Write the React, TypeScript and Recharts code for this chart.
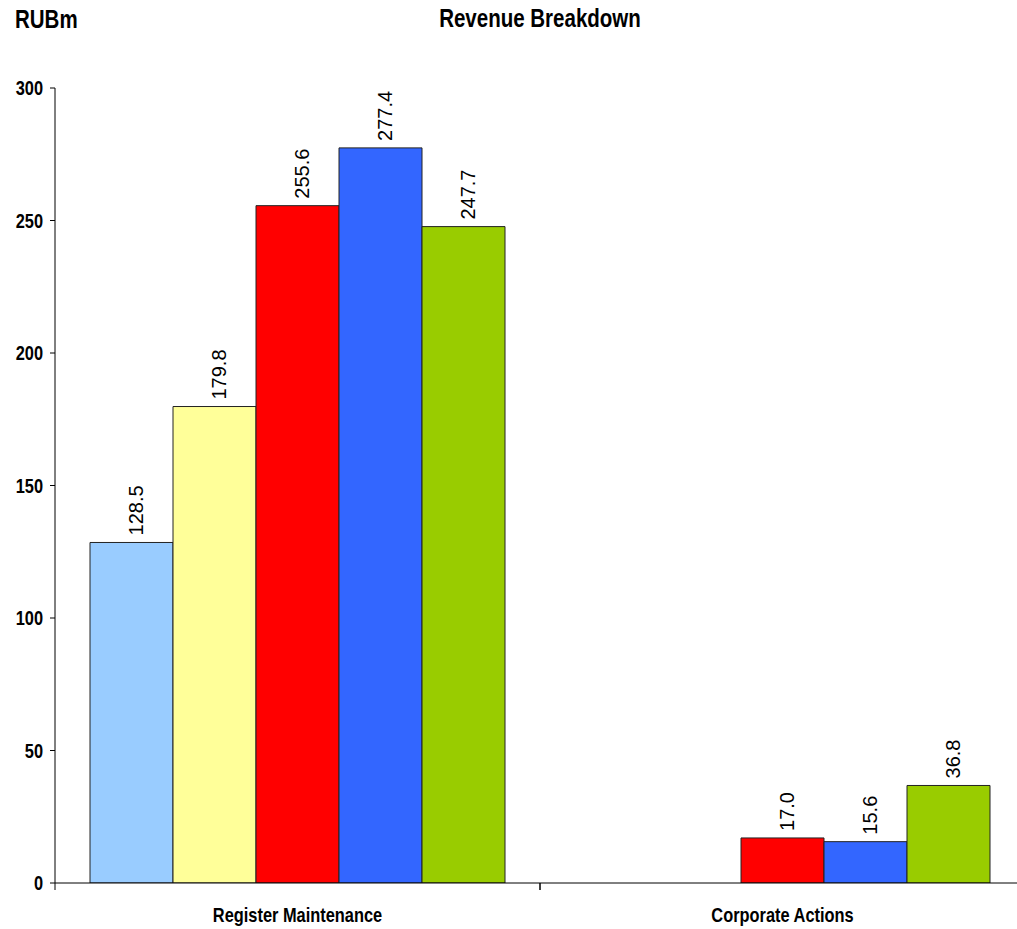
import React from "react";
import { BarChart, Bar, XAxis, YAxis, LabelList } from "recharts";

const categories = ["Register Maintenance", "Corporate Actions"];
const series1 = [128.5, null];
const series2 = [179.8, null];
const series3 = [255.6, 17.0];
const series4 = [277.4, 15.6];
const series5 = [247.7, 36.8];
const yTicks = [0, 50, 100, 150, 200, 250, 300];

const seriesDefs = [
  { key: "s1", values: series1, color: "#99CCFF" },
  { key: "s2", values: series2, color: "#FFFF99" },
  { key: "s3", values: series3, color: "#FF0000" },
  { key: "s4", values: series4, color: "#3366FF" },
  { key: "s5", values: series5, color: "#99CC00" },
];

const data = categories.map((c, i) => {
  const row: any = { name: c };
  seriesDefs.forEach((s) => (row[s.key] = s.values[i]));
  return row;
});

const FONT = "'Liberation Sans', Arial, sans-serif";
const NARROW = 0.82;

const ValueLabel = (props: any) => {
  const { x, y, width, value } = props;
  if (value === null || value === undefined) return null;
  const cx = x + width / 2 + 5;
  const ty = y - 7;
  return (
    <text
      x={cx}
      y={ty}
      transform={`rotate(-90, ${cx}, ${ty})`}
      textAnchor="start"
      dominantBaseline="central"
      fontFamily={FONT}
      fontSize={20}
      fill="#000"
    >
      {Number(value).toFixed(1)}
    </text>
  );
};

const XTick = (props: any) => {
  const { x, y, payload } = props;
  const half = payload && payload.offset ? payload.offset : 242.5;
  return (
    <g>
      <line x1={x - half} y1={y} x2={x - half} y2={y + 7} stroke="#000" />
      <line x1={x + half} y1={y} x2={x + half} y2={y + 7} stroke="#000" />
      <g transform={`translate(${x}, ${y + 39}) scale(${NARROW}, 1)`}>
        <text
          x={0}
          y={0}
          textAnchor="middle"
          fontFamily={FONT}
          fontWeight="bold"
          fontSize={20}
          fill="#000"
        >
          {payload.value}
        </text>
      </g>
    </g>
  );
};

const YTick = (props: any) => {
  const { x, y, payload } = props;
  return (
    <g transform={`translate(${x}, ${y}) scale(${NARROW}, 1)`}>
      <text
        x={0}
        y={0}
        textAnchor="end"
        dominantBaseline="central"
        fontFamily={FONT}
        fontWeight="bold"
        fontSize={20}
        fill="#000"
      >
        {payload.value}
      </text>
    </g>
  );
};

const headStyle: React.CSSProperties = {
  position: "absolute",
  fontFamily: FONT,
  fontWeight: "bold",
  fontSize: 25,
  lineHeight: "25px",
  color: "#000",
  whiteSpace: "nowrap",
};

export default function App() {
  return (
    <div
      style={{
        position: "absolute",
        left: 0,
        top: 0,
        width: 1017,
        height: 929,
        overflow: "hidden",
        background: "#fff",
      }}
    >
      <div
        style={{
          ...headStyle,
          left: 15,
          top: 7,
          transform: `scaleX(${NARROW})`,
          transformOrigin: "left top",
        }}
      >
        RUBm
      </div>
      <div
        style={{
          ...headStyle,
          left: 340,
          width: 400,
          top: 6,
          textAlign: "center",
          transform: `scaleX(${NARROW})`,
          transformOrigin: "center top",
        }}
      >
        Revenue Breakdown
      </div>
      <BarChart
        width={1030}
        height={929}
        data={data}
        margin={{ top: 88, right: 5, left: 0, bottom: 16 }}
        barCategoryGap={35}
        barGap={0}
      >
        <XAxis
          dataKey="name"
          axisLine={{ stroke: "#000" }}
          tickLine={false}
          tickSize={0}
          tickMargin={0}
          height={30}
          interval={0}
          tick={<XTick />}
        />
        <YAxis
          width={55}
          domain={[0, 300]}
          ticks={yTicks}
          allowDataOverflow
          axisLine={{ stroke: "#000" }}
          tickLine={{ stroke: "#000" }}
          tickSize={5}
          tickMargin={7}
          tick={<YTick />}
        />
        {seriesDefs.map((s) => (
          <Bar
            key={s.key}
            dataKey={s.key}
            fill={s.color}
            stroke="#222"
            strokeWidth={1}
            isAnimationActive={false}
          >
            <LabelList dataKey={s.key} content={<ValueLabel />} />
          </Bar>
        ))}
      </BarChart>
    </div>
  );
}
